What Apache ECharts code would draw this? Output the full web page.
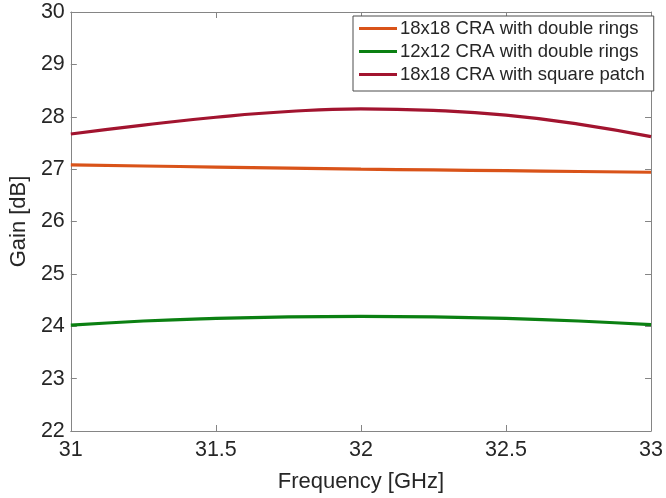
<!DOCTYPE html>
<html>
<head>
<meta charset="utf-8">
<script src="https://cdn.jsdelivr.net/npm/echarts@6/dist/echarts.min.js"></script>
<style>
  html, body { margin: 0; padding: 0; background: #fff; }
  #main { width: 666px; height: 498px; }
</style>
</head>
<body>
<div id="main"></div>
<script>
// 频率 (GHz)
var freq = [31.0, 31.25, 31.5, 31.75, 32.0, 32.25, 32.5, 32.75, 33.0];
var seriesNames = ['18x18 CRA with double rings', '12x12 CRA with double rings', '18x18 CRA with square patch'];
var gainRings18 = [27.08, 27.06, 27.04, 27.02, 27.00, 26.985, 26.97, 26.955, 26.94];
var gainRings12 = [24.02, 24.10, 24.15, 24.18, 24.19, 24.18, 24.15, 24.10, 24.03];
var gainPatch18 = [27.67, 27.84, 27.99, 28.10, 28.15, 28.12, 28.03, 27.86, 27.62];
var colors = ['#D95319', '#0B8012', '#A2142F'];

var chart = echarts.init(document.getElementById('main'));
var font = 'Liberation Sans, Arial, sans-serif';
var axisGray = '#858585';
var textColor = '#262626';

function pairs(ys) {
    var out = [];
    for (var i = 0; i < freq.length; i++) out.push([freq[i], ys[i]]);
    return out;
}

var xBase = {
    type: 'value', min: 31, max: 33, interval: 0.5,
    axisLine: { show: true, lineStyle: { color: axisGray, width: 1 } },
    axisTick: { show: true, inside: true, length: 6, lineStyle: { color: axisGray } },
    splitLine: { show: false }
};
var yBase = {
    type: 'value', min: 22, max: 30, interval: 1,
    axisLine: { show: true, lineStyle: { color: axisGray, width: 1 } },
    axisTick: { show: true, inside: true, length: 6, lineStyle: { color: axisGray } },
    splitLine: { show: false }
};

var series = [gainRings18, gainRings12, gainPatch18].map(function (d, i) {
    return {
        name: seriesNames[i], type: 'line', data: pairs(d),
        smooth: true, symbol: 'none',
        lineStyle: { color: colors[i], width: 3.2 },
        itemStyle: { color: colors[i] }
    };
});

chart.setOption({
    animation: false,
    backgroundColor: '#fff',
    grid: { left: 65, right: 13, top: 12, bottom: 66 },
    xAxis: [
        echarts.util.merge({
            position: 'bottom',
            name: 'Frequency [GHz]', nameLocation: 'middle', nameGap: 40,
            nameTextStyle: { fontFamily: font, fontSize: 22, color: textColor },
            axisLabel: { margin: 8, fontFamily: font, fontSize: 21.5, color: textColor,
                alignMinLabel: 'center', alignMaxLabel: 'center', hideOverlap: false,
                formatter: function (v) { return String(v); } }
        }, xBase, true),
        echarts.util.merge({ position: 'top', axisLabel: { show: false } }, xBase, true)
    ],
    yAxis: [
        echarts.util.merge({
            position: 'left',
            name: 'Gain [dB]', nameLocation: 'middle', nameGap: 26,
            nameTextStyle: { fontFamily: font, fontSize: 22, color: textColor },
            axisLabel: { margin: 6, fontFamily: font, fontSize: 21.5, color: textColor }
        }, yBase, true),
        echarts.util.merge({ position: 'right', axisLabel: { show: false } }, yBase, true)
    ],
    legend: {
        orient: 'vertical', left: 353, top: 16,
        padding: [3, 9, 7, 6], itemGap: 4,
        itemWidth: 38, itemHeight: 3, icon: 'rect',
        backgroundColor: '#fff', borderColor: '#4d4d4d', borderWidth: 1, borderRadius: 0,
        textStyle: { fontFamily: font, fontSize: 18.5, color: textColor, lineHeight: 19, padding: [0, 0, 0, -2] },
        data: seriesNames
    },
    series: series
});
</script>
</body>
</html>
